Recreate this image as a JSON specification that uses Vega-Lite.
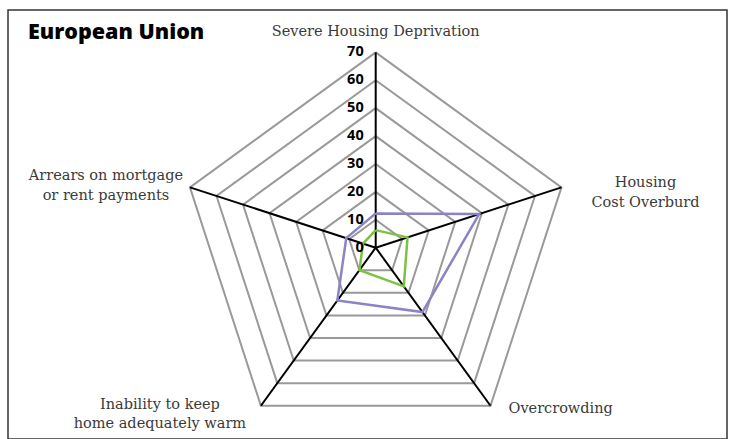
{
  "$schema": "https://vega.github.io/schema/vega-lite/v6.json",
  "width": 719,
  "height": 429,
  "autosize": "none",
  "padding": {"left": 8, "top": 10, "right": 4, "bottom": 0},
  "background": "white",
  "config": {"view": {"stroke": "#333333", "strokeWidth": 1.5}},
  "title": {
    "text": "European Union",
    "anchor": "start",
    "frame": "group",
    "orient": "top",
    "offset": -50,
    "baseline": "alphabetic",
    "dx": 20,
    "font": "Open Sans",
    "fontWeight": 800,
    "fontSize": 21.5,
    "color": "#000000"
  },
  "datasets": {
    "axes": [
      {"k": 0, "axis": "Severe Housing Deprivation", "label": "Severe Housing Deprivation"},
      {"k": 1, "axis": "Housing Cost Overburden", "label": "Housing\nCost Overburd"},
      {"k": 2, "axis": "Overcrowding", "label": "Overcrowding"},
      {"k": 3, "axis": "Inability to keep home adequately warm", "label": "Inability to keep\nhome adequately warm"},
      {"k": 4, "axis": "Arrears on mortgage or rent payments", "label": "Arrears on mortgage\nor rent payments"}
    ],
    "grid": [
      {"level": 10, "k": [0, 1, 2, 3, 4, 5]},
      {"level": 20, "k": [0, 1, 2, 3, 4, 5]},
      {"level": 30, "k": [0, 1, 2, 3, 4, 5]},
      {"level": 40, "k": [0, 1, 2, 3, 4, 5]},
      {"level": 50, "k": [0, 1, 2, 3, 4, 5]},
      {"level": 60, "k": [0, 1, 2, 3, 4, 5]},
      {"level": 70, "k": [0, 1, 2, 3, 4, 5]}
    ],
    "ticks": [
      {"v": 0}, {"v": 10}, {"v": 20}, {"v": 30}, {"v": 40}, {"v": 50}, {"v": 60}, {"v": 70}
    ],
    "values": [
      {"series": "Below poverty threshold", "k": 0, "value": 12.3},
      {"series": "Below poverty threshold", "k": 1, "value": 39.0},
      {"series": "Below poverty threshold", "k": 2, "value": 28.5},
      {"series": "Below poverty threshold", "k": 3, "value": 23.4},
      {"series": "Below poverty threshold", "k": 4, "value": 11.1},
      {"series": "Below poverty threshold", "k": 5, "value": 12.3},
      {"series": "Total population", "k": 0, "value": 6.3},
      {"series": "Total population", "k": 1, "value": 12.0},
      {"series": "Total population", "k": 2, "value": 17.1},
      {"series": "Total population", "k": 3, "value": 9.9},
      {"series": "Total population", "k": 4, "value": 4.8},
      {"series": "Total population", "k": 5, "value": 6.3}
    ]
  },
  "layer": [
    {
      "data": {"name": "grid"},
      "transform": [
        {"flatten": ["k"]},
        {"calculate": "datum.level * sin(datum.k * 2 * PI / 5)", "as": "px"},
        {"calculate": "datum.level * cos(datum.k * 2 * PI / 5)", "as": "py"}
      ],
      "mark": {"type": "line", "color": "#999999", "strokeWidth": 2, "strokeJoin": "miter"},
      "encoding": {
        "x": {"field": "px", "type": "quantitative", "scale": {"domain": [-131.79, 125.91]}, "axis": null},
        "y": {"field": "py", "type": "quantitative", "scale": {"domain": [-68.54, 85.17]}, "axis": null},
        "detail": {"field": "level"},
        "order": {"field": "k", "type": "quantitative"}
      }
    },
    {
      "data": {"name": "axes"},
      "transform": [
        {"calculate": "70 * sin(datum.k * 2 * PI / 5)", "as": "px"},
        {"calculate": "70 * cos(datum.k * 2 * PI / 5)", "as": "py"}
      ],
      "mark": {"type": "rule", "color": "#000000", "strokeWidth": 2},
      "encoding": {
        "x": {"field": "px", "type": "quantitative", "scale": {"domain": [-131.79, 125.91]}, "axis": null},
        "y": {"field": "py", "type": "quantitative", "scale": {"domain": [-68.54, 85.17]}, "axis": null},
        "x2": {"datum": 0},
        "y2": {"datum": 0}
      }
    },
    {
      "data": {"name": "values"},
      "transform": [
        {"calculate": "datum.value * sin(datum.k * 2 * PI / 5)", "as": "px"},
        {"calculate": "datum.value * cos(datum.k * 2 * PI / 5)", "as": "py"}
      ],
      "mark": {"type": "line", "strokeWidth": 2.5, "strokeJoin": "miter"},
      "encoding": {
        "x": {"field": "px", "type": "quantitative", "scale": {"domain": [-131.79, 125.91]}, "axis": null},
        "y": {"field": "py", "type": "quantitative", "scale": {"domain": [-68.54, 85.17]}, "axis": null},
        "color": {"field": "series", "type": "nominal", "scale": {"domain": ["Below poverty threshold", "Total population"], "range": ["#8a84c6", "#7cc242"]}, "legend": null},
        "order": {"field": "k", "type": "quantitative"}
      }
    },
    {
      "data": {"name": "ticks"},
      "mark": {"type": "text", "align": "right", "baseline": "middle", "dx": -12, "font": "Open Sans", "fontWeight": 700, "fontSize": 14.5, "color": "#000000"},
      "encoding": {
        "x": {"datum": 0, "type": "quantitative", "scale": {"domain": [-131.79, 125.91]}, "axis": null},
        "y": {"field": "v", "type": "quantitative", "scale": {"domain": [-68.54, 85.17]}, "axis": null},
        "text": {"field": "v", "type": "quantitative"}
      }
    },
    {
      "data": {"name": "axes"},
      "transform": [
        {"filter": "datum.k == 0"},
        {"calculate": "70 * sin(datum.k * 2 * PI / 5)", "as": "px"},
        {"calculate": "70 * cos(datum.k * 2 * PI / 5)", "as": "py"}
      ],
      "mark": {"type": "text", "align": "center", "baseline": "middle", "dy": -20, "font": "DejaVu Serif", "fontSize": 14.5, "color": "#3a3a3a", "lineBreak": "\n", "lineHeight": 20},
      "encoding": {
        "x": {"field": "px", "type": "quantitative", "scale": {"domain": [-131.79, 125.91]}, "axis": null},
        "y": {"field": "py", "type": "quantitative", "scale": {"domain": [-68.54, 85.17]}, "axis": null},
        "text": {"field": "label"}
      }
    },
    {
      "data": {"name": "axes"},
      "transform": [
        {"filter": "datum.k == 1"},
        {"calculate": "70 * sin(datum.k * 2 * PI / 5)", "as": "px"},
        {"calculate": "70 * cos(datum.k * 2 * PI / 5)", "as": "py"}
      ],
      "mark": {"type": "text", "align": "center", "baseline": "middle", "dx": 84, "dy": -4, "font": "DejaVu Serif", "fontSize": 14.5, "color": "#3a3a3a", "lineBreak": "\n", "lineHeight": 20},
      "encoding": {
        "x": {"field": "px", "type": "quantitative", "scale": {"domain": [-131.79, 125.91]}, "axis": null},
        "y": {"field": "py", "type": "quantitative", "scale": {"domain": [-68.54, 85.17]}, "axis": null},
        "text": {"field": "label"}
      }
    },
    {
      "data": {"name": "axes"},
      "transform": [
        {"filter": "datum.k == 2"},
        {"calculate": "70 * sin(datum.k * 2 * PI / 5)", "as": "px"},
        {"calculate": "70 * cos(datum.k * 2 * PI / 5)", "as": "py"}
      ],
      "mark": {"type": "text", "align": "left", "baseline": "middle", "dx": 18, "dy": 3, "font": "DejaVu Serif", "fontSize": 14.5, "color": "#3a3a3a", "lineBreak": "\n", "lineHeight": 20},
      "encoding": {
        "x": {"field": "px", "type": "quantitative", "scale": {"domain": [-131.79, 125.91]}, "axis": null},
        "y": {"field": "py", "type": "quantitative", "scale": {"domain": [-68.54, 85.17]}, "axis": null},
        "text": {"field": "label"}
      }
    },
    {
      "data": {"name": "axes"},
      "transform": [
        {"filter": "datum.k == 3"},
        {"calculate": "70 * sin(datum.k * 2 * PI / 5)", "as": "px"},
        {"calculate": "70 * cos(datum.k * 2 * PI / 5)", "as": "py"}
      ],
      "mark": {"type": "text", "align": "center", "baseline": "middle", "dx": -101, "dy": -1, "font": "DejaVu Serif", "fontSize": 14.5, "color": "#3a3a3a", "lineBreak": "\n", "lineHeight": 19},
      "encoding": {
        "x": {"field": "px", "type": "quantitative", "scale": {"domain": [-131.79, 125.91]}, "axis": null},
        "y": {"field": "py", "type": "quantitative", "scale": {"domain": [-68.54, 85.17]}, "axis": null},
        "text": {"field": "label"}
      }
    },
    {
      "data": {"name": "axes"},
      "transform": [
        {"filter": "datum.k == 4"},
        {"calculate": "70 * sin(datum.k * 2 * PI / 5)", "as": "px"},
        {"calculate": "70 * cos(datum.k * 2 * PI / 5)", "as": "py"}
      ],
      "mark": {"type": "text", "align": "center", "baseline": "middle", "dx": -84, "dy": -11, "font": "DejaVu Serif", "fontSize": 14.5, "color": "#3a3a3a", "lineBreak": "\n", "lineHeight": 20},
      "encoding": {
        "x": {"field": "px", "type": "quantitative", "scale": {"domain": [-131.79, 125.91]}, "axis": null},
        "y": {"field": "py", "type": "quantitative", "scale": {"domain": [-68.54, 85.17]}, "axis": null},
        "text": {"field": "label"}
      }
    }
  ]
}
